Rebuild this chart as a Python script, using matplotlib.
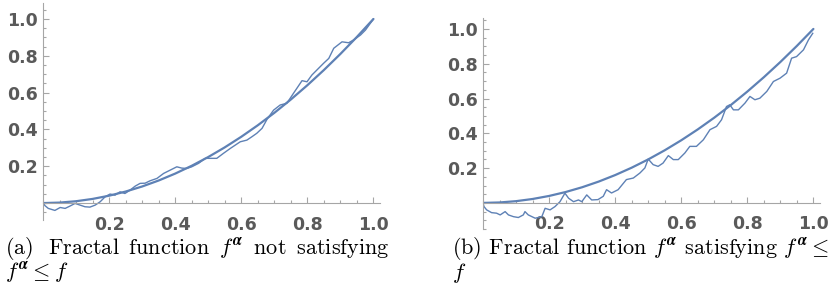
import matplotlib.pyplot as plt
from matplotlib.ticker import MultipleLocator, FixedLocator

# smooth function f
x_f = [0, 0.05, 0.1, 0.15, 0.2, 0.25, 0.3, 0.35, 0.4, 0.45, 0.5,
       0.55, 0.6, 0.65, 0.7, 0.75, 0.8, 0.85, 0.9, 0.95, 1.0]
y_f = [0, 0.0025, 0.01, 0.0225, 0.04, 0.0625, 0.09, 0.1225, 0.16, 0.2025, 0.25,
       0.3025, 0.36, 0.4225, 0.49, 0.5625, 0.64, 0.7225, 0.81, 0.9025, 1.0]

# fractal function, panel (a)
x_a = [0, 0.006, 0.016, 0.036, 0.052, 0.067, 0.082, 0.097, 0.112, 0.127, 0.142,
       0.158, 0.173, 0.188, 0.203, 0.218, 0.233, 0.248, 0.264, 0.279, 0.294,
       0.309, 0.324, 0.345, 0.365, 0.385, 0.405, 0.420, 0.435, 0.450, 0.471,
       0.491, 0.506, 0.526, 0.546, 0.567, 0.582, 0.597, 0.617, 0.632, 0.647,
       0.663, 0.678, 0.698, 0.718, 0.738, 0.758, 0.784, 0.799, 0.814, 0.834,
       0.849, 0.865, 0.880, 0.905, 0.925, 0.940, 0.961, 0.976, 1.0]
y_a = [0, -0.014, -0.029, -0.040, -0.024, -0.029, -0.016, -0.002, -0.011, -0.020, -0.022,
       -0.011, 0.007, 0.034, 0.049, 0.043, 0.061, 0.052, 0.071, 0.092, 0.107,
       0.108, 0.121, 0.134, 0.161, 0.179, 0.197, 0.190, 0.188, 0.197, 0.216,
       0.243, 0.243, 0.243, 0.270, 0.297, 0.315, 0.333, 0.342, 0.360, 0.379,
       0.406, 0.455, 0.505, 0.533, 0.542, 0.596, 0.665, 0.659, 0.696, 0.732,
       0.759, 0.786, 0.841, 0.876, 0.871, 0.886, 0.913, 0.940, 1.0]

# fractal function, panel (b)
x_b = [0, 0.003, 0.011, 0.026, 0.041, 0.052, 0.067, 0.077, 0.092, 0.107, 0.122,
       0.127, 0.137, 0.158, 0.178, 0.188, 0.203, 0.218, 0.233, 0.248, 0.259,
       0.274, 0.289, 0.299, 0.314, 0.329, 0.348, 0.364, 0.374, 0.389, 0.409,
       0.434, 0.455, 0.475, 0.490, 0.500, 0.515, 0.530, 0.545, 0.561, 0.576,
       0.591, 0.611, 0.626, 0.646, 0.667, 0.687, 0.707, 0.722, 0.737, 0.747,
       0.758, 0.773, 0.793, 0.808, 0.823, 0.838, 0.859, 0.879, 0.899, 0.919,
       0.934, 0.949, 0.970, 0.985, 0.998]
y_b = [0, -0.021, -0.040, -0.056, -0.059, -0.069, -0.050, -0.069, -0.079, -0.084, -0.069,
       -0.050, -0.069, -0.088, -0.079, -0.031, -0.040, -0.021, 0.007, 0.056, 0.027,
       0.007, 0.017, 0.007, 0.046, 0.017, 0.019, 0.038, 0.076, 0.057, 0.076,
       0.134, 0.143, 0.172, 0.201, 0.252, 0.220, 0.210, 0.229, 0.272, 0.249,
       0.249, 0.287, 0.325, 0.325, 0.363, 0.421, 0.440, 0.478, 0.554, 0.564,
       0.535, 0.535, 0.574, 0.612, 0.593, 0.602, 0.641, 0.698, 0.717, 0.746,
       0.832, 0.841, 0.880, 0.937, 0.975]

tick_vals = [0.2, 0.4, 0.6, 0.8, 1.0]
tick_labels = ['0.2', '0.4', '0.6', '0.8', '1.0']

# first line of (a) is justified in the source, so its gaps get a thin space extra
captions = [
    [r'(a)  Fractal$\,$ function$\,$ $f^{\boldsymbol{\alpha}}$$\,$ not$\,$ satisfying',
     r'$f^{\boldsymbol{\alpha}} \leq f$'],
    [r'(b) Fractal function $f^{\boldsymbol{\alpha}}$ satisfying $f^{\boldsymbol{\alpha}} \leq$',
     r'$f$'],
]

blue = '#5E81B5'
axis_grey = '#a6a6a6'
label_grey = '#5a5a5a'

plt.rcParams['mathtext.fontset'] = 'cm'

W, H = 839, 290
fig = plt.figure(figsize=(W / 100, H / 100), dpi=100)

# axes boxes in pixels: (left, top, right, bottom) and y limits
panels = [
    dict(box=(43, 3, 380, 220), ylim=(-0.092, 1.087), fx=x_a, fy=y_a, cap_x=5),
    dict(box=(483, 18, 820, 229), ylim=(-0.15, 1.063), fx=x_b, fy=y_b, cap_x=452),
]

for p, cap in zip(panels, captions):
    l, t, r, b = p['box']
    ax = fig.add_axes([l / W, 1 - b / H, (r - l) / W, (b - t) / H])
    ax.set_xlim(0, 1.02)
    ax.set_ylim(*p['ylim'])

    ax.plot(x_f, y_f, color=blue, lw=1.6, solid_capstyle='round')
    ax.plot(p['fx'], p['fy'], color=blue, lw=1.0)

    for side in ['top', 'right']:
        ax.spines[side].set_visible(False)
    ax.spines['left'].set_position(('data', 0))
    ax.spines['bottom'].set_position(('data', 0))
    for side in ['left', 'bottom']:
        ax.spines[side].set_color(axis_grey)
        ax.spines[side].set_linewidth(0.8)

    ax.xaxis.set_major_locator(FixedLocator(tick_vals))
    ax.yaxis.set_major_locator(FixedLocator(tick_vals))
    ax.set_xticklabels(tick_labels)
    ax.set_yticklabels(tick_labels)
    ax.xaxis.set_minor_locator(MultipleLocator(0.05))
    ax.yaxis.set_minor_locator(MultipleLocator(0.05))
    ax.tick_params(which='both', direction='in', color=axis_grey, width=0.8)
    ax.tick_params(which='major', length=4)
    ax.tick_params(which='minor', length=2)
    ax.tick_params(axis='x', which='major', pad=9)
    ax.tick_params(axis='y', which='major', pad=4)
    for lab in ax.get_xticklabels() + ax.get_yticklabels():
        lab.set_fontsize(12.5)
        lab.set_fontweight('bold')
        lab.set_color(label_grey)
        lab.set_family('DejaVu Sans')

    fig.text(p['cap_x'] / W, 1 - 254 / H, cap[0], family='cmr10', fontsize=16,
             color='black', va='baseline')
    fig.text(p['cap_x'] / W, 1 - 279 / H, cap[1], family='cmr10', fontsize=16,
             color='black', va='baseline')

fig.savefig('out.png', dpi=100)
